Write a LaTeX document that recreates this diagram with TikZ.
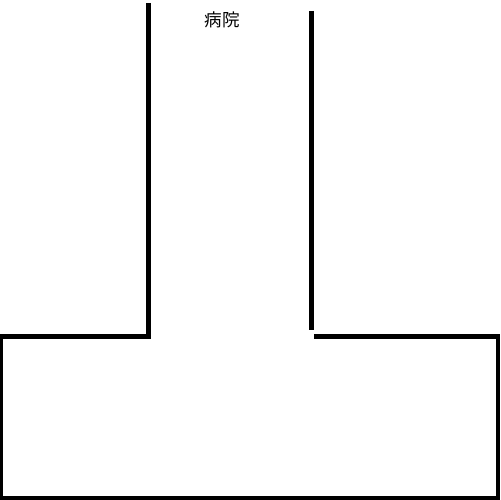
\documentclass[tikz,border=0pt]{standalone}
\usepackage{fontspec}
\usepackage{tikz}
\usetikzlibrary{positioning}
\newfontfamily\jpfont{Noto Sans CJK JP}

\begin{document}
\begin{tikzpicture}[
    x=0.02cm, y=-0.02cm,
    wall/.style  = {draw=black, line width=2.6pt, line join=miter},
    label/.style = {font=\jpfont\fontsize{10}{12}\selectfont, inner sep=0pt}
  ]

  % ── Frame ─────────────────────────────────────────────────────────────────
  \useasboundingbox (0,0) rectangle (500,500);

  % ── Road outline ──────────────────────────────────────────────────────────
  \coordinate (lefttop)   at (148.5,3);
  \coordinate (leftknee)  at (148.5,336.5);
  \coordinate (botleftup) at (0.5,336.5);
  \coordinate (botleft)   at (0.5,498);
  \coordinate (botright)  at (498,498);
  \coordinate (toprightb) at (498,336.5);
  \coordinate (rightknee) at (314,336.5);
  \coordinate (righttop)  at (311.5,11);
  \coordinate (rightend)  at (311.5,330);

  \draw[wall] (lefttop) -- (leftknee) -- (botleftup) -- (botleft)
              -- (botright) -- (toprightb) -- (rightknee);
  \draw[wall] (righttop) -- (rightend);

  % ── Label ─────────────────────────────────────────────────────────────────
  \node[label] (hospital) at (222,20) {病院};

\end{tikzpicture}
\end{document}
